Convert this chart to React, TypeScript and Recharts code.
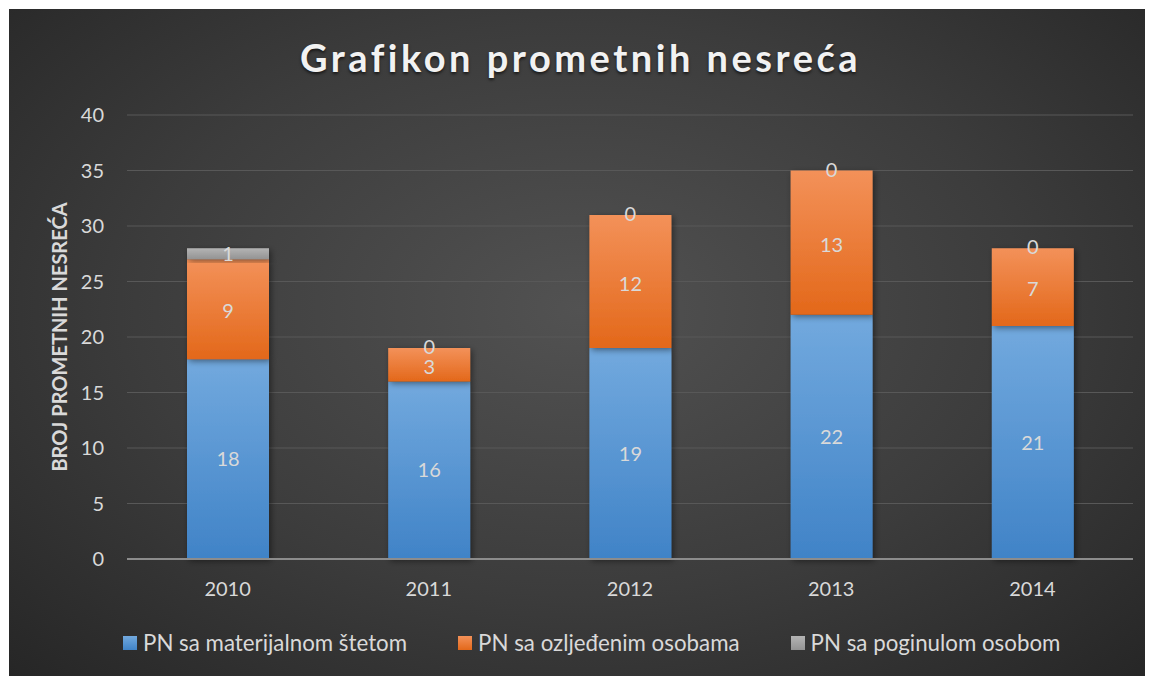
import { Bar, BarChart, CartesianGrid, LabelList, XAxis, YAxis } from "recharts";

const years = ["2010", "2011", "2012", "2013", "2014"];
const materijalna = [18, 16, 19, 22, 21];
const ozlijedeni = [9, 3, 12, 13, 7];
const poginuli = [1, 0, 0, 0, 0];
const yTicks = [0, 5, 10, 15, 20, 25, 30, 35, 40];

const series = [
  { key: "materijalna", name: "PN sa materijalnom štetom", grad: "gBlue", top: "#72a9de", bottom: "#4083c7" },
  { key: "ozlijedeni", name: "PN sa ozljeđenim osobama", grad: "gOrange", top: "#f39159", bottom: "#e3681a" },
  { key: "poginuli", name: "PN sa poginulom osobom", grad: "gGray", top: "#b4b4b4", bottom: "#939393" },
];

const data = years.map((year, i) => ({
  year,
  materijalna: materijalna[i],
  ozlijedeni: ozlijedeni[i],
  poginuli: poginuli[i],
}));

const FONT = "Lato, 'Open Sans', sans-serif";
const TEXT = "#d9d9d9";
const W = 1143;
const H = 667;
const LABEL_SIZE = 20;

// zero-height segments are not drawn by the Bar, so the orange series also
// prints the gray value at its top edge when that value is 0
type LabelProps = {
  x?: number | string;
  y?: number | string;
  width?: number | string;
  height?: number | string;
  index?: number;
  value?: number | string;
};

function OrangeLabel(props: LabelProps) {
  const x = Number(props.x ?? 0);
  const y = Number(props.y ?? 0);
  const w = Number(props.width ?? 0);
  const h = Number(props.height ?? 0);
  const i = props.index ?? 0;
  const top = poginuli[i];
  return (
    <g>
      <text
        x={x + w / 2}
        y={y + h / 2 + 1}
        textAnchor="middle"
        dominantBaseline="central"
        fill={TEXT}
        fontSize={LABEL_SIZE}
        fontFamily={FONT}
      >
        {props.value}
      </text>
      {top === 0 && (
        <text
          x={x + w / 2}
          y={y - 2}
          textAnchor="middle"
          dominantBaseline="central"
          fill={TEXT}
          fontSize={LABEL_SIZE}
          fontFamily={FONT}
        >
          {top}
        </text>
      )}
    </g>
  );
}

export default function App() {
  return (
    <div
      style={{
        position: "relative",
        width: W,
        height: H,
        marginLeft: 1,
        marginTop: 1,
        fontFamily: FONT,
        background: "radial-gradient(ellipse at 50% 45%, #525252 0%, #3c3c3c 55%, #262626 100%)",
      }}
    >
      <div
        style={{
          position: "absolute",
          top: 25,
          left: 0,
          width: W,
          textAlign: "center",
          fontSize: 38,
          fontWeight: 700,
          letterSpacing: 3.5,
          color: "#f2f2f2",
          textShadow: "0 2px 3px rgba(0,0,0,0.6)",
        }}
      >
        Grafikon prometnih nesreća
      </div>
      <BarChart
        width={W}
        height={H}
        data={data}
        margin={{ top: 106, right: 19, left: 0, bottom: 87 }}
        style={{ fontFamily: FONT }}
      >
        <defs>
          {series.map((s) => (
            <linearGradient key={s.grad} id={s.grad} x1="0" y1="0" x2="0" y2="1">
              <stop offset="0%" stopColor={s.top} />
              <stop offset="100%" stopColor={s.bottom} />
            </linearGradient>
          ))}
          <filter id="shadow" x="-20%" y="-20%" width="150%" height="150%">
            <feDropShadow dx="2" dy="2" stdDeviation="3" floodColor="#000" floodOpacity="0.45" />
          </filter>
        </defs>
        <CartesianGrid vertical={false} stroke="#585858" strokeWidth={1} />
        <XAxis
          dataKey="year"
          tickLine={false}
          tickSize={0}
          tickMargin={23}
          axisLine={{ stroke: "#8c8c8c", strokeWidth: 2 }}
          tick={{ fill: TEXT, fontSize: 20 }}
        />
        <YAxis
          domain={[0, 40]}
          ticks={yTicks}
          width={118}
          tickLine={false}
          axisLine={false}
          tickSize={0}
          tickMargin={23}
          tick={{ fill: TEXT, fontSize: 20 }}
          label={{
            content: (props: { viewBox?: { x: number; y: number; height: number } }) => {
              const vb = props.viewBox;
              if (!vb) return null;
              const cx = 50;
              const cy = vb.y + vb.height / 2;
              return (
                <text
                  x={cx}
                  y={cy}
                  transform={`rotate(-90 ${cx} ${cy})`}
                  textAnchor="middle"
                  dominantBaseline="central"
                  fill={TEXT}
                  fontSize={20}
                  fontWeight={700}
                  fontFamily={FONT}
                >
                  BROJ PROMETNIH NESREĆA
                </text>
              );
            },
          }}
        />
        {series.map((s) => (
          <Bar
            key={s.key}
            dataKey={s.key}
            name={s.name}
            stackId="a"
            barSize={82}
            fill={`url(#${s.grad})`}
            style={{ filter: "url(#shadow)" }}
            isAnimationActive={false}
          >
            {s.key === "ozlijedeni" ? (
              <LabelList dataKey={s.key} content={OrangeLabel} />
            ) : (
              <LabelList dataKey={s.key} position="center" fill={TEXT} fontSize={LABEL_SIZE} fontFamily={FONT} />
            )}
          </Bar>
        ))}
      </BarChart>
      <div
        style={{
          position: "absolute",
          top: 620,
          left: 114,
          display: "flex",
          gap: 51,
          fontSize: 22.3,
          color: TEXT,
          whiteSpace: "nowrap",
        }}
      >
        {series.map((s) => (
          <div key={s.key} style={{ display: "flex", alignItems: "center", gap: 6 }}>
            <span
              style={{
                display: "inline-block",
                width: 14,
                height: 14,
                background: `linear-gradient(${s.top}, ${s.bottom})`,
              }}
            />
            <span>{s.name}</span>
          </div>
        ))}
      </div>
    </div>
  );
}
